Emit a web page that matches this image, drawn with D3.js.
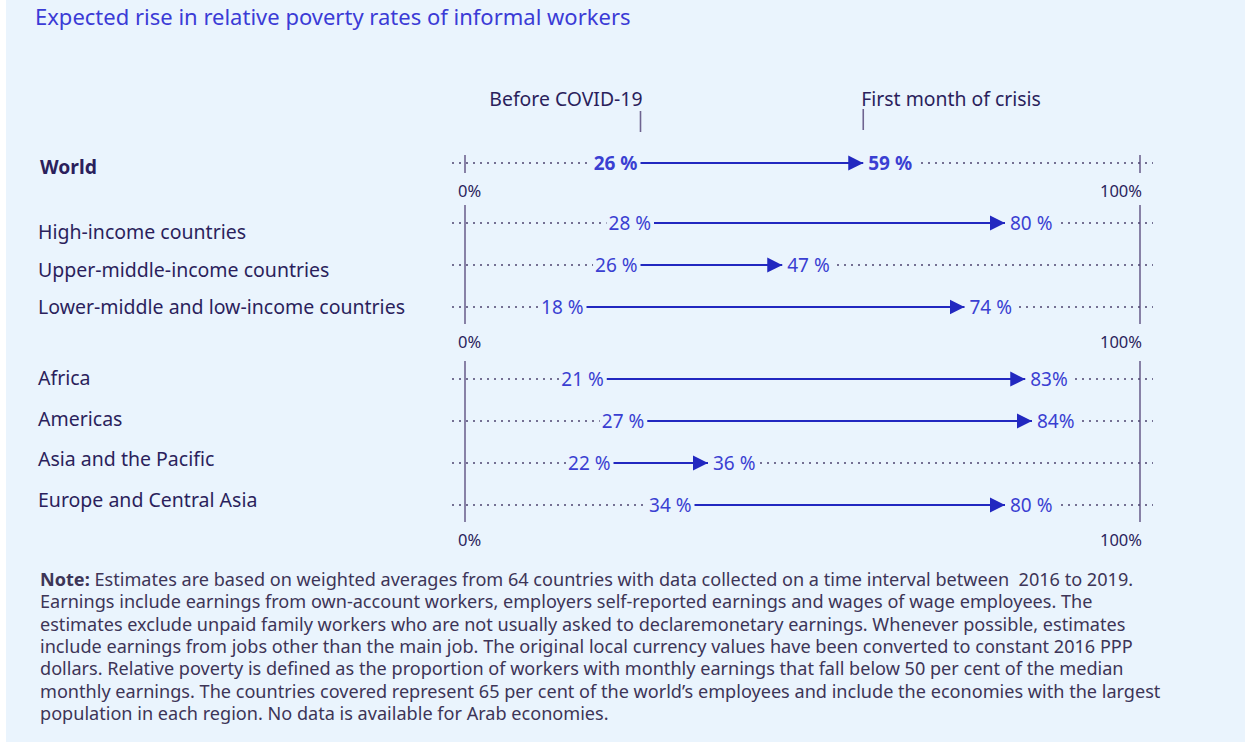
<!DOCTYPE html>
<html>
<head>
<meta charset="utf-8">
<script src="https://cdn.jsdelivr.net/npm/d3@7"></script>
<style>
  html, body { margin: 0; padding: 0; background: #ffffff; }
  svg { display: block; }
</style>
</head>
<body>
<svg id="chart" width="1245" height="742"></svg>
<script>
// ---- Data ----
const categories = ["World", "High-income countries", "Upper-middle-income countries",
  "Lower-middle and low-income countries", "Africa", "Americas",
  "Asia and the Pacific", "Europe and Central Asia"];
const groups = [0, 1, 1, 1, 2, 2, 2, 2];
const beforeCovid = [26, 28, 26, 18, 21, 27, 22, 34];
const firstMonth = [59, 80, 47, 74, 83, 84, 36, 80];
const beforeLabels = ["26 %", "28 %", "26 %", "18 %", "21 %", "27 %", "22 %", "34 %"];
const afterLabels = ["59 %", "80 %", "47 %", "74 %", "83%", "84%", "36 %", "80 %"];
const axisTicks = [0, 100];
const axisTickLabels = ["0%", "100%"];
const seriesNames = ["Before COVID-19", "First month of crisis"];
const title = "Expected rise in relative poverty rates of informal workers";
const noteLines = [
  "Estimates are based on weighted averages from 64 countries with data collected on a time interval between\u00a0 2016 to 2019.",
  "Earnings include earnings from own-account workers, employers self-reported earnings and wages of wage employees. The",
  "estimates exclude unpaid family workers who are not usually asked to declaremonetary earnings. Whenever possible, estimates",
  "include earnings from jobs other than the main job. The original local currency values have been converted to constant 2016 PPP",
  "dollars. Relative poverty is defined as the proportion of workers with monthly earnings that fall below 50 per cent of the median",
  "monthly earnings. The countries covered represent 65 per cent of the world\u2019s employees and include the economies with the largest",
  "population in each region. No data is available for Arab economies."
];

// ---- Style ----
const BG = "#eaf4fd";
const FONT = "'Noto Sans', 'Open Sans', sans-serif";
const TITLE_C = "#3b3bd6";
const DARK = "#2b1f5c";
const VAL_C = "#3a3fd2";
const ARROW_C = "#2228c0";
const FRAME_C = "#6f6490";
const NOTE_C = "#3d3557";

const svg = d3.select("#chart");
svg.append("rect").attr("x", 6).attr("y", 0).attr("width", 1239).attr("height", 742).attr("fill", BG);

const x = d3.scaleLinear().domain([0, 100]).range([465, 1140]);
const rowStep = 42, rowTop = 163;
const groupOffset = [0, 18, 48];
const rowY = categories.map((c, i) => rowTop + i * rowStep + groupOffset[groups[i]]);
// category label placement (centre offset of first row in group, change per row)
const labelStart = [4, 9, -1];
const labelPerRow = [0, -4.5, -1.5];
const groupFirst = [0, 1, 4];

// Title
svg.append("text").attr("x", 35).attr("y", 25).attr("font-family", FONT)
  .attr("font-size", 22).attr("fill", TITLE_C).text(title);

// Header labels with ticks (at World values)
svg.append("text").attr("x", x(beforeCovid[0]) + 2).attr("y", 106).attr("text-anchor", "end")
  .attr("font-family", FONT).attr("font-size", 19.4).attr("fill", DARK).text(seriesNames[0]);
svg.append("line").attr("x1", x(beforeCovid[0])).attr("x2", x(beforeCovid[0]))
  .attr("y1", 111).attr("y2", 132).attr("stroke", FRAME_C).attr("stroke-width", 1.6);
svg.append("text").attr("x", x(firstMonth[0]) - 2).attr("y", 106).attr("text-anchor", "start")
  .attr("font-family", FONT).attr("font-size", 19.4).attr("fill", DARK).text(seriesNames[1]);
svg.append("line").attr("x1", x(firstMonth[0])).attr("x2", x(firstMonth[0]))
  .attr("y1", 109).attr("y2", 130).attr("stroke", FRAME_C).attr("stroke-width", 1.6);

// Frame lines per group
[0, 1, 2].forEach(g => {
  const ys = rowY.filter((y, i) => groups[i] === g);
  const y0 = d3.min(ys), y1 = d3.max(ys);
  const t0 = g === 0 ? y0 - 8 : y0 - 18;
  const t1 = g === 0 ? y1 + 10 : y1 + 17;
  axisTicks.forEach((t, k) => {
    svg.append("line").attr("x1", x(t)).attr("x2", x(t)).attr("y1", t0).attr("y2", t1)
      .attr("stroke", FRAME_C).attr("stroke-width", 1.6);
    svg.append("text").attr("x", k === 0 ? x(t) - 7 : x(t) + 2).attr("y", t1 + 24)
      .attr("text-anchor", k === 0 ? "start" : "end")
      .attr("font-family", FONT).attr("font-size", 16.5).attr("fill", DARK).text(axisTickLabels[k]);
  });
});

// Defs: arrowhead
svg.append("defs").append("marker").attr("id", "ah")
  .attr("viewBox", "0 0 10 10").attr("refX", 10).attr("refY", 5)
  .attr("markerUnits", "userSpaceOnUse").attr("markerWidth", 15).attr("markerHeight", 17)
  .attr("orient", "auto")
  .append("path").attr("d", "M0,0 L10,5 L0,10 Z").attr("fill", ARROW_C);

// Rows
const rows = svg.selectAll("g.row").data(categories).join("g").attr("class", "row");

rows.each(function(c, i) {
  const g = d3.select(this);
  const y = rowY[i];
  const bold = i === 0;
  const grp = groups[i];
  const centre = y + labelStart[grp] + (i - groupFirst[grp]) * labelPerRow[grp];
  g.append("text").attr("x", i === 0 ? 40 : 38).attr("y", centre + 7)
    .attr("font-family", FONT).attr("font-size", bold ? 19.3 : 19.5)
    .attr("font-weight", bold ? "bold" : "normal").attr("fill", DARK).text(c);
  g.append("line").attr("x1", x(0) - 13).attr("x2", x(100) + 13).attr("y1", y).attr("y2", y)
    .attr("stroke", "#4d4470").attr("stroke-width", 1.5).attr("stroke-dasharray", "2,5");
  const x0 = x(beforeCovid[i]), x1 = x(firstMonth[i]);
  const lb = g.append("text").attr("x", x0 - 3).attr("y", y + 6.5).attr("text-anchor", "end")
    .attr("font-family", FONT).attr("font-size", 19).attr("font-weight", bold ? "bold" : "normal")
    .attr("fill", VAL_C).text(beforeLabels[i]);
  const la = g.append("text").attr("x", x1 + 5).attr("y", y + 6.5).attr("text-anchor", "start")
    .attr("font-family", FONT).attr("font-size", 19).attr("font-weight", bold ? "bold" : "normal")
    .attr("fill", VAL_C).text(afterLabels[i]);
  const bb = lb.node().getBBox(), ba = la.node().getBBox();
  g.insert("rect", () => lb.node()).attr("x", bb.x - 2).attr("y", y - 4)
    .attr("width", ba.x + ba.width + 4 - (bb.x - 2)).attr("height", 8).attr("fill", BG);
  g.append("line").attr("x1", x0).attr("x2", x1).attr("y1", y).attr("y2", y)
    .attr("stroke", ARROW_C).attr("stroke-width", 2).attr("marker-end", "url(#ah)");
});

// Note
const note = svg.append("text").attr("font-family", FONT).attr("font-size", 18.1).attr("fill", NOTE_C);
noteLines.forEach((l, i) => {
  const t = note.append("tspan").attr("x", 40).attr("y", 586 + i * 22.3);
  if (i === 0) {
    t.append("tspan").attr("font-weight", "bold").text("Note: ");
    t.append("tspan").text(l);
  } else t.text(l);
});
</script>
</body>
</html>
